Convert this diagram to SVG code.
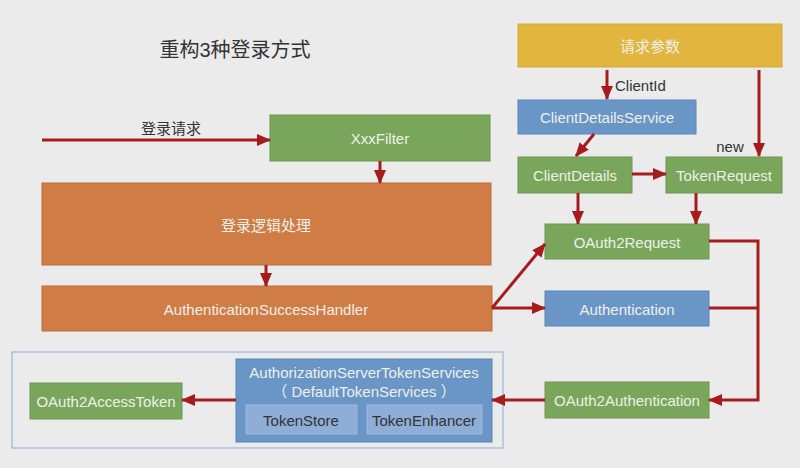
<svg xmlns="http://www.w3.org/2000/svg" width="800" height="468" viewBox="0 0 800 468">
<style>
text{font-family:"Liberation Sans","Noto Sans CJK SC",sans-serif;text-anchor:middle;dominant-baseline:central}
.t{fill:#eef0ea;font-size:15px}
.d{fill:#333;font-size:15px}
.green{fill:#79a65a;stroke:#6c9850;stroke-width:1}
.orange{fill:#cf7c45;stroke:#bc6c38;stroke-width:1}
.blue{fill:#6a95c7;stroke:#5b86ba;stroke-width:1}
.lblue{fill:#8eaed8;stroke:#9bb8dd;stroke-width:1}
.yellow{fill:#e2b63e;stroke:#d4a934;stroke-width:1}
.c{stroke:#a61c1c;stroke-width:3;fill:none}
</style>
<defs>
<marker id="ah" markerUnits="userSpaceOnUse" markerWidth="14" markerHeight="12" refX="13" refY="6" orient="auto">
<path d="M0,0 L14,6 L0,12 Z" fill="#a61c1c"/>
</marker>
</defs>
<rect width="800" height="468" fill="#ebebeb"/>
<text x="235" y="50" style="font-size:20px;fill:#333">重构3种登录方式</text>
<g id="container"><rect x="12" y="352" width="491" height="96" fill="none" stroke="#a9c1df" stroke-width="1.5"/></g>
<g id="n-xxxfilter"><rect class="green" x="270" y="115" width="220" height="46"/><text class="t" x="380" y="138">XxxFilter</text></g>
<g id="n-login"><rect class="orange" x="42" y="183" width="449" height="82"/><text class="t" x="266" y="225">登录逻辑处理</text></g>
<g id="n-success"><rect class="orange" x="42" y="286" width="450" height="45"/><text class="t" x="266" y="309">AuthenticationSuccessHandler</text></g>
<g id="n-params"><rect class="yellow" x="518" y="24" width="264" height="43"/><text class="t" x="650" y="46">请求参数</text></g>
<g id="n-cds"><rect class="blue" x="518" y="100" width="178" height="34"/><text class="t" x="607" y="117">ClientDetailsService</text></g>
<g id="n-cd"><rect class="green" x="518" y="157" width="114" height="36"/><text class="t" x="575" y="175">ClientDetails</text></g>
<g id="n-tr"><rect class="green" x="666" y="157" width="116" height="36"/><text class="t" x="724" y="175">TokenRequest</text></g>
<g id="n-oreq"><rect class="green" x="545" y="224" width="164" height="35"/><text class="t" x="627" y="242">OAuth2Request</text></g>
<g id="n-auth"><rect class="blue" x="545" y="291" width="164" height="35"/><text class="t" x="627" y="309">Authentication</text></g>
<g id="n-oauth"><rect class="green" x="545" y="382" width="164" height="36"/><text class="t" x="627" y="400">OAuth2Authentication</text></g>
<g id="n-asts"><rect class="blue" x="236" y="359" width="256" height="83"/><text class="t" x="364" y="372">AuthorizationServerTokenServices</text><text class="t" x="364" y="391">（ DefaultTokenServices ）</text></g>
<g id="n-store"><rect class="lblue" x="246" y="405" width="111" height="29"/><text class="d" x="301" y="420">TokenStore</text></g>
<g id="n-enh"><rect class="lblue" x="367" y="405" width="115" height="29"/><text class="d" x="424" y="420">TokenEnhancer</text></g>
<g id="n-token"><rect class="green" x="30" y="383" width="152" height="36"/><text class="t" x="106" y="401">OAuth2AccessToken</text></g>
<g id="connectors">
<path class="c" d="M42,140 L270,140" marker-end="url(#ah)"/>
<path class="c" d="M380,161 L380,183" marker-end="url(#ah)"/>
<path class="c" d="M266,265 L266,286" marker-end="url(#ah)"/>
<path class="c" d="M607,70 L607,99" marker-end="url(#ah)"/>
<path class="c" d="M759,70 L759,156" marker-end="url(#ah)"/>
<path class="c" d="M594,134 L576,156" marker-end="url(#ah)"/>
<path class="c" d="M632,174 L666,174" marker-end="url(#ah)"/>
<path class="c" d="M578,193 L578,224" marker-end="url(#ah)"/>
<path class="c" d="M696,193 L696,224" marker-end="url(#ah)"/>
<path class="c" d="M492,308 L545,244" marker-end="url(#ah)"/>
<path class="c" d="M492,308 L545,308" marker-end="url(#ah)"/>
<path class="c" d="M709,241 L758,241 L758,400 L709,400" marker-end="url(#ah)"/>
<path class="c" d="M709,308 L758,308"/>
<path class="c" d="M545,400 L492,400" marker-end="url(#ah)"/>
<path class="c" d="M236,400 L182,400" marker-end="url(#ah)"/>
</g>
<text class="d" x="171" y="128">登录请求</text>
<text class="d" x="615" y="85" style="text-anchor:start">ClientId</text>
<text class="d" x="730" y="146">new</text>
</svg>
